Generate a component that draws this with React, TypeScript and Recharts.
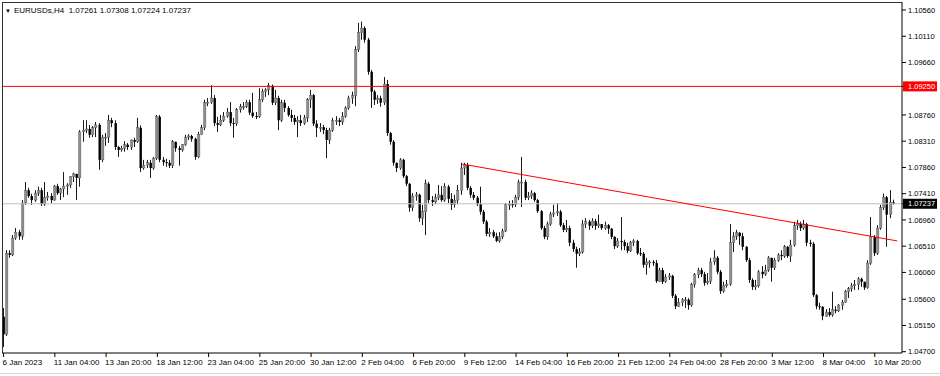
import React from 'react';
import { ComposedChart, Bar, XAxis, YAxis, ReferenceLine } from 'recharts';

// EURUSDs H4, 6 Jan 2023 12:00 .. 13 Mar 2023 (one value per 4h bar)
const firstOpen = 1.0530;

const closes = [
  1.0500, 1.0639, 1.0636,
  1.0665, 1.0675, 1.0668, 1.0725, 1.0747, 1.0737,
  1.0730, 1.0742, 1.0747, 1.0723, 1.0734, 1.0737,
  1.0730, 1.0754, 1.0742, 1.0749, 1.0754, 1.0756,
  1.0770, 1.0775, 1.0768, 1.0847, 1.0850, 1.0852,
  1.0842, 1.0854, 1.0859, 1.0799, 1.0838, 1.0838,
  1.0867, 1.0862, 1.0821, 1.0816, 1.0819, 1.0825,
  1.0821, 1.0833, 1.0830, 1.0854, 1.0785, 1.0790,
  1.0794, 1.0785, 1.0802, 1.0873, 1.0799, 1.0795,
  1.0794, 1.0789, 1.0830, 1.0819, 1.0816, 1.0825,
  1.0838, 1.0840, 1.0835, 1.0804, 1.0843, 1.0854,
  1.0897, 1.0898, 1.0905, 1.0862, 1.0859, 1.0867,
  1.0874, 1.0881, 1.0862, 1.0861, 1.0885, 1.0890,
  1.0891, 1.0898, 1.0880, 1.0874, 1.0873, 1.0902,
  1.0916, 1.0919, 1.0926, 1.0897, 1.0905, 1.0867,
  1.0897, 1.0888, 1.0876, 1.0871, 1.0864, 1.0867,
  1.0862, 1.0871, 1.0902, 1.0910, 1.0861, 1.0854,
  1.0855, 1.0850, 1.0833, 1.0850, 1.0866, 1.0867,
  1.0864, 1.0874, 1.0888, 1.0905, 1.0909, 1.0988,
  1.1017, 1.1025, 1.1005, 1.0950, 1.0916, 1.0902,
  1.0905, 1.0897, 1.0929, 1.0845, 1.0830, 1.0794,
  1.0785, 1.0799, 1.0771, 1.0758, 1.0717, 1.0737,
  1.0739, 1.0699, 1.0710, 1.0758, 1.0730, 1.0727,
  1.0734, 1.0739, 1.0730, 1.0753, 1.0732, 1.0722,
  1.0730, 1.0747, 1.0785, 1.0790, 1.0751, 1.0739,
  1.0734, 1.0723, 1.0710, 1.0693, 1.0672, 1.0675,
  1.0668, 1.0660, 1.0667, 1.0677, 1.0722, 1.0723,
  1.0722, 1.0735, 1.0761, 1.0761, 1.0734, 1.0737,
  1.0742, 1.0730, 1.0711, 1.0682, 1.0667, 1.0689,
  1.0706, 1.0708, 1.0710, 1.0687, 1.0679, 1.0682,
  1.0657, 1.0646, 1.0638, 1.0641, 1.0689, 1.0693,
  1.0686, 1.0694, 1.0686, 1.0689, 1.0682, 1.0687,
  1.0681, 1.0667, 1.0651, 1.0660, 1.0658, 1.0651,
  1.0643, 1.0657, 1.0660, 1.0639, 1.0638, 1.0619,
  1.0624, 1.0624, 1.0622, 1.0591, 1.0610, 1.0590,
  1.0598, 1.0600, 1.0566, 1.0548, 1.0554, 1.0559,
  1.0559, 1.0550, 1.0585, 1.0602, 1.0610, 1.0603,
  1.0588, 1.0591, 1.0624, 1.0631, 1.0607, 1.0574,
  1.0583, 1.0586, 1.0657, 1.0668, 1.0674, 1.0668,
  1.0650, 1.0627, 1.0593, 1.0581, 1.0583, 1.0607,
  1.0603, 1.0610, 1.0631, 1.0614, 1.0627, 1.0636,
  1.0634, 1.0650, 1.0634, 1.0653, 1.0686, 1.0689,
  1.0682, 1.0689, 1.0657, 1.0655, 1.0567, 1.0548,
  1.0547, 1.0531, 1.0538, 1.0533, 1.0542, 1.0540,
  1.0550, 1.0555, 1.0573, 1.0578, 1.0583, 1.0585,
  1.0595, 1.0590, 1.0580, 1.0622, 1.0667, 1.0639,
  1.0682, 1.0717, 1.0735, 1.0705, 1.07261, 1.07237,
];

const highs = [
  1.0545, 1.0644, 1.0644,
  1.0670, 1.0682, 1.0679, 1.0730, 1.0761, 1.0751,
  1.0741, 1.0747, 1.0753, 1.0751, 1.0761, 1.0744,
  1.0742, 1.0756, 1.0758, 1.0751, 1.0778, 1.0759,
  1.0771, 1.0777, 1.0775, 1.0850, 1.0867, 1.0867,
  1.0859, 1.0857, 1.0864, 1.0862, 1.0842, 1.0845,
  1.0876, 1.0871, 1.0867, 1.0823, 1.0823, 1.0831,
  1.0828, 1.0834, 1.0837, 1.0871, 1.0858, 1.0799,
  1.0799, 1.0799, 1.0804, 1.0876, 1.0876, 1.0804,
  1.0801, 1.0799, 1.0833, 1.0830, 1.0823, 1.0826,
  1.0842, 1.0843, 1.0842, 1.0837, 1.0847, 1.0859,
  1.0902, 1.0905, 1.0927, 1.0910, 1.0873, 1.0876,
  1.0881, 1.0888, 1.0898, 1.0871, 1.0888, 1.0895,
  1.0898, 1.0902, 1.0902, 1.0914, 1.0881, 1.0922,
  1.0921, 1.0922, 1.0931, 1.0928, 1.0919, 1.0909,
  1.0902, 1.0902, 1.0891, 1.0885, 1.0876, 1.0874,
  1.0876, 1.0876, 1.0905, 1.0919, 1.0912, 1.0867,
  1.0862, 1.0859, 1.0854, 1.0854, 1.0871, 1.0874,
  1.0871, 1.0881, 1.0891, 1.0909, 1.0916, 1.0994,
  1.1034, 1.1036, 1.1028, 1.1008, 1.0953, 1.0919,
  1.0910, 1.0909, 1.0941, 1.0936, 1.0847, 1.0833,
  1.0792, 1.0802, 1.0801, 1.0773, 1.0759, 1.0742,
  1.0744, 1.0741, 1.0722, 1.0765, 1.0761, 1.0737,
  1.0741, 1.0756, 1.0754, 1.0759, 1.0756, 1.0742,
  1.0739, 1.0756, 1.0794, 1.0794, 1.0794, 1.0754,
  1.0744, 1.0737, 1.0753, 1.0713, 1.0696, 1.0682,
  1.0679, 1.0674, 1.0675, 1.0681, 1.0725, 1.0729,
  1.0730, 1.0739, 1.0765, 1.0804, 1.0765, 1.0744,
  1.0747, 1.0744, 1.0732, 1.0713, 1.0686, 1.0693,
  1.0710, 1.0722, 1.0725, 1.0713, 1.0691, 1.0696,
  1.0686, 1.0662, 1.0650, 1.0648, 1.0696, 1.0699,
  1.0696, 1.0699, 1.0698, 1.0705, 1.0689, 1.0693,
  1.0689, 1.0682, 1.0668, 1.0665, 1.0701, 1.0662,
  1.0657, 1.0660, 1.0663, 1.0662, 1.0648, 1.0641,
  1.0631, 1.0627, 1.0627, 1.0627, 1.0614, 1.0614,
  1.0603, 1.0605, 1.0602, 1.0569, 1.0562, 1.0562,
  1.0564, 1.0562, 1.0588, 1.0605, 1.0614, 1.0614,
  1.0607, 1.0605, 1.0631, 1.0644, 1.0634, 1.0610,
  1.0590, 1.0593, 1.0689, 1.0675, 1.0679, 1.0675,
  1.0674, 1.0651, 1.0631, 1.0596, 1.0593, 1.0610,
  1.0617, 1.0619, 1.0634, 1.0631, 1.0631, 1.0639,
  1.0644, 1.0653, 1.0651, 1.0662, 1.0693, 1.0696,
  1.0693, 1.0696, 1.0691, 1.0662, 1.0658, 1.0569,
  1.0554, 1.0548, 1.0543, 1.0545, 1.0573, 1.0548,
  1.0552, 1.0559, 1.0576, 1.0581, 1.0588, 1.0593,
  1.0598, 1.0597, 1.0590, 1.0627, 1.0701, 1.0670,
  1.0687, 1.0722, 1.0741, 1.0737, 1.0747, 1.07308,
];

const lows = [
  1.0478, 1.0497, 1.0631,
  1.0634, 1.0662, 1.0662, 1.0662, 1.0722, 1.0734,
  1.0722, 1.0727, 1.0737, 1.0720, 1.0720, 1.0729,
  1.0725, 1.0729, 1.0739, 1.0730, 1.0735, 1.0739,
  1.0751, 1.0761, 1.0730, 1.0753, 1.0830, 1.0845,
  1.0837, 1.0838, 1.0838, 1.0782, 1.0795, 1.0823,
  1.0828, 1.0855, 1.0816, 1.0804, 1.0813, 1.0813,
  1.0816, 1.0816, 1.0821, 1.0828, 1.0778, 1.0782,
  1.0785, 1.0768, 1.0782, 1.0799, 1.0795, 1.0789,
  1.0787, 1.0785, 1.0785, 1.0813, 1.0789, 1.0813,
  1.0823, 1.0833, 1.0830, 1.0799, 1.0802, 1.0842,
  1.0850, 1.0891, 1.0895, 1.0857, 1.0847, 1.0857,
  1.0864, 1.0871, 1.0857, 1.0837, 1.0857, 1.0880,
  1.0885, 1.0888, 1.0876, 1.0871, 1.0869, 1.0871,
  1.0898, 1.0907, 1.0910, 1.0893, 1.0893, 1.0850,
  1.0864, 1.0881, 1.0873, 1.0864, 1.0859, 1.0838,
  1.0857, 1.0859, 1.0864, 1.0888, 1.0857, 1.0838,
  1.0847, 1.0843, 1.0802, 1.0826, 1.0847, 1.0859,
  1.0857, 1.0859, 1.0871, 1.0885, 1.0895, 1.0891,
  1.0984, 1.1005, 1.1000, 1.0945, 1.0888, 1.0893,
  1.0895, 1.0890, 1.0893, 1.0840, 1.0825, 1.0789,
  1.0778, 1.0782, 1.0768, 1.0754, 1.0710, 1.0711,
  1.0729, 1.0693, 1.0687, 1.0670, 1.0725, 1.0720,
  1.0723, 1.0730, 1.0727, 1.0727, 1.0725, 1.0713,
  1.0717, 1.0723, 1.0739, 1.0773, 1.0747, 1.0734,
  1.0730, 1.0720, 1.0705, 1.0689, 1.0668, 1.0667,
  1.0665, 1.0658, 1.0657, 1.0663, 1.0675, 1.0713,
  1.0717, 1.0718, 1.0730, 1.0718, 1.0730, 1.0730,
  1.0732, 1.0727, 1.0708, 1.0679, 1.0663, 1.0662,
  1.0686, 1.0701, 1.0703, 1.0684, 1.0675, 1.0675,
  1.0651, 1.0641, 1.0614, 1.0634, 1.0638, 1.0682,
  1.0679, 1.0682, 1.0679, 1.0682, 1.0679, 1.0679,
  1.0672, 1.0663, 1.0646, 1.0648, 1.0644, 1.0644,
  1.0639, 1.0641, 1.0651, 1.0636, 1.0634, 1.0614,
  1.0602, 1.0614, 1.0617, 1.0588, 1.0590, 1.0586,
  1.0588, 1.0593, 1.0562, 1.0543, 1.0547, 1.0548,
  1.0545, 1.0542, 1.0547, 1.0580, 1.0596, 1.0598,
  1.0583, 1.0585, 1.0586, 1.0619, 1.0603, 1.0569,
  1.0571, 1.0580, 1.0583, 1.0641, 1.0662, 1.0653,
  1.0644, 1.0624, 1.0588, 1.0576, 1.0576, 1.0580,
  1.0596, 1.0600, 1.0607, 1.0590, 1.0610, 1.0624,
  1.0627, 1.0631, 1.0631, 1.0624, 1.0650, 1.0679,
  1.0677, 1.0679, 1.0651, 1.0650, 1.0564, 1.0543,
  1.0542, 1.0524, 1.0530, 1.0530, 1.0530, 1.0536,
  1.0538, 1.0542, 1.0554, 1.0562, 1.0573, 1.0576,
  1.0576, 1.0581, 1.0576, 1.0578, 1.0619, 1.0634,
  1.0636, 1.0679, 1.0713, 1.0650, 1.0699, 1.07224,
];

// one label every 16 bars, starting at the first bar
const TICK_EVERY = 16;
const timeLabels = [
  '6 Jan 2023', '11 Jan 04:00', '13 Jan 20:00', '18 Jan 12:00', '23 Jan 04:00', '25 Jan 20:00',
  '30 Jan 12:00', '2 Feb 04:00', '6 Feb 20:00', '9 Feb 12:00', '14 Feb 04:00', '16 Feb 20:00',
  '21 Feb 12:00', '24 Feb 04:00', '28 Feb 20:00', '3 Mar 12:00', '8 Mar 04:00', '10 Mar 20:00',
];

const priceTicks = [1.047, 1.0515, 1.056, 1.0606, 1.0651, 1.0696, 1.0741, 1.0786, 1.0831, 1.0876, 1.0966, 1.1011, 1.1056];
const levelPrice = 1.0925;
const lastPrice = 1.07237;
const trendStart = { bar: 143, price: 1.0792 };
const trendEnd = { bar: 279, price: 1.066 };
const headerText = 'EURUSDs,H4  1.07261 1.07308 1.07224 1.07237';

const FONT = "'Liberation Sans', Arial, sans-serif";
const EMPTY_BARS = 2; // chart shift on the right

const candles = closes.map((close, i) => {
  const open = i === 0 ? firstOpen : closes[i - 1];
  const top = Math.max(highs[i], open, close);
  const bottom = Math.min(lows[i], open, close);
  return { i, open, close, top, bottom, range: [bottom, top] };
});
for (let k = 0; k < EMPTY_BARS; k++) {
  candles.push({ i: closes.length + k, open: null, close: null, top: null, bottom: null, range: null } as any);
}

const Candle = (props: any) => {
  const { x, width, payload } = props;
  let { y, height } = props;
  if (!payload || payload.close == null || height == null) return null;
  if (height < 0) { y += height; height = -height; }
  const { open, close, top, bottom } = payload;
  const k = top === bottom ? 0 : height / (top - bottom);
  const yO = y + (top - open) * k;
  const yC = y + (top - close) * k;
  const px = Math.round(x + width / 2);
  const up = close >= open;
  const bTop = Math.min(yO, yC);
  const bH = Math.max(1, Math.abs(yC - yO));
  return (
    <g>
      <line x1={px - 0.5} x2={px - 0.5} y1={y} y2={y + Math.max(height, 1)} stroke="#1a1a1a" strokeWidth={1} />
      <rect x={px - 1.5} y={bTop} width={2.4} height={bH} fill={up ? '#8e8e8e' : '#000'} stroke={up ? '#555' : 'none'} strokeWidth={0.4} />
    </g>
  );
};

const TimeTick = (props: any) => {
  const { x, y, payload } = props;
  const label = timeLabels[payload.value / TICK_EVERY];
  if (!label) return null;
  return (
    <text x={x - 1} y={y} dy="0.71em" fontSize={8} fontFamily={FONT} fill="#000" textAnchor="start">
      {label}
    </text>
  );
};

const PriceTick = (props: any) => {
  const { x, y, payload } = props;
  const v = payload.value;
  const tag = v === levelPrice ? '#ff0000' : v === lastPrice ? '#000' : null;
  return (
    <g>
      {tag && <rect x={x - 5} y={y - 5} width={34} height={10} fill={tag} />}
      <text x={x} y={y} dy="0.355em" fontSize={7.5} fontFamily={FONT} fill={tag ? '#fff' : '#000'} textAnchor="start">
        {v.toFixed(5)}
      </text>
    </g>
  );
};

export default function App() {
  return (
    <div style={{ position: 'fixed', left: 0, top: 0, width: 940, height: 376, background: '#fff' }}>
      <ComposedChart
        width={940}
        height={376}
        data={candles}
        margin={{ top: 2, right: 0, bottom: 0, left: 2 }}
        barCategoryGap={0}
      >
        <XAxis
          dataKey="i"
          height={23}
          interval={TICK_EVERY - 1}
          tick={<TimeTick />}
          tickSize={4}
          axisLine={{ stroke: '#000' }}
          tickLine={{ stroke: '#000' }}
        />
        <YAxis
          orientation="right"
          width={38}
          type="number"
          domain={[1.04678, 1.10697]}
          allowDataOverflow
          interval={0}
          ticks={[...priceTicks, lastPrice, levelPrice]}
          tick={<PriceTick />}
          tickSize={4}
          tickMargin={2}
          axisLine={{ stroke: '#000' }}
          tickLine={{ stroke: '#000' }}
        />
        <ReferenceLine y={lastPrice} stroke="#c0c0c0" strokeWidth={1} />
        <Bar dataKey="range" shape={<Candle />} isAnimationActive={false} />
        <ReferenceLine y={levelPrice} stroke="#ff0000" strokeWidth={1} />
        <ReferenceLine
          segment={[{ x: trendStart.bar, y: trendStart.price }, { x: trendEnd.bar, y: trendEnd.price }]}
          stroke="#ff0000"
          strokeWidth={1}
          ifOverflow="visible"
        />
      </ComposedChart>
      <div style={{ position: 'absolute', left: 2, top: 2, width: 900, height: 351, borderLeft: '1px solid #333', borderTop: '1px solid #333', boxSizing: 'border-box', pointerEvents: 'none' }} />
      <div style={{ position: 'absolute', left: 0, top: 373, width: 940, height: 1, background: '#d6d6d6' }} />
      <div style={{ position: 'absolute', left: 5, top: 6, fontFamily: FONT, fontSize: 8, color: '#000', whiteSpace: 'pre', lineHeight: '10px' }}>
        <span style={{ fontSize: 6, marginRight: 3 }}>▼</span>
        {headerText}
      </div>
    </div>
  );
}
